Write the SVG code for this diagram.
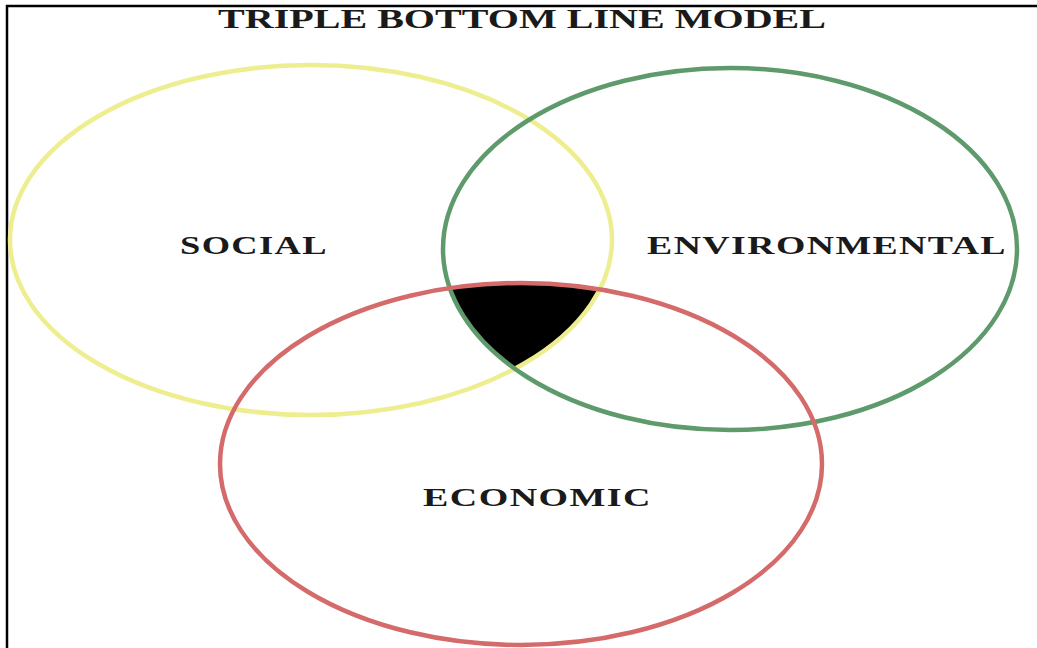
<svg xmlns="http://www.w3.org/2000/svg" width="1037" height="648" viewBox="0 0 1037 648">
<style>
.lbl{font-family:"Liberation Serif","Times New Roman",serif;font-weight:bold;fill:#1a1a1a;}
.tag{letter-spacing:1px;}
.ring{fill:none;stroke-width:4.5;}
</style>
<defs>
<clipPath id="cy"><ellipse cx="311" cy="240" rx="301" ry="175"/></clipPath>
<clipPath id="cg"><ellipse cx="730" cy="249" rx="287" ry="181"/></clipPath>
</defs>
<rect width="1037" height="648" fill="#ffffff"/>
<path d="M7,648 V6 H1037" fill="none" stroke="#000" stroke-width="2.5"/>
<text class="lbl" x="218" y="28" font-size="27" textLength="608" lengthAdjust="spacingAndGlyphs">TRIPLE BOTTOM LINE MODEL</text>
<g id="center">
<g clip-path="url(#cy)"><g clip-path="url(#cg)"><ellipse cx="521" cy="464" rx="301" ry="181" fill="#000"/></g></g>
</g>
<g id="social">
<ellipse class="ring" cx="311" cy="240" rx="301" ry="175" stroke="#eeee90"/>
<text class="lbl tag" x="180" y="254" font-size="26" textLength="148" lengthAdjust="spacingAndGlyphs">SOCIAL</text>
</g>
<g id="environmental">
<ellipse class="ring" cx="730" cy="249" rx="287" ry="181" stroke="#5e9a6c"/>
<text class="lbl tag" x="647" y="254" font-size="26" textLength="360" lengthAdjust="spacingAndGlyphs">ENVIRONMENTAL</text>
</g>
<g id="economic">
<ellipse class="ring" cx="521" cy="464" rx="301" ry="181" stroke="#d46a6a"/>
<text class="lbl tag" x="423" y="506" font-size="26" textLength="229" lengthAdjust="spacingAndGlyphs">ECONOMIC</text>
</g>
<g id="connectors"/>
</svg>
